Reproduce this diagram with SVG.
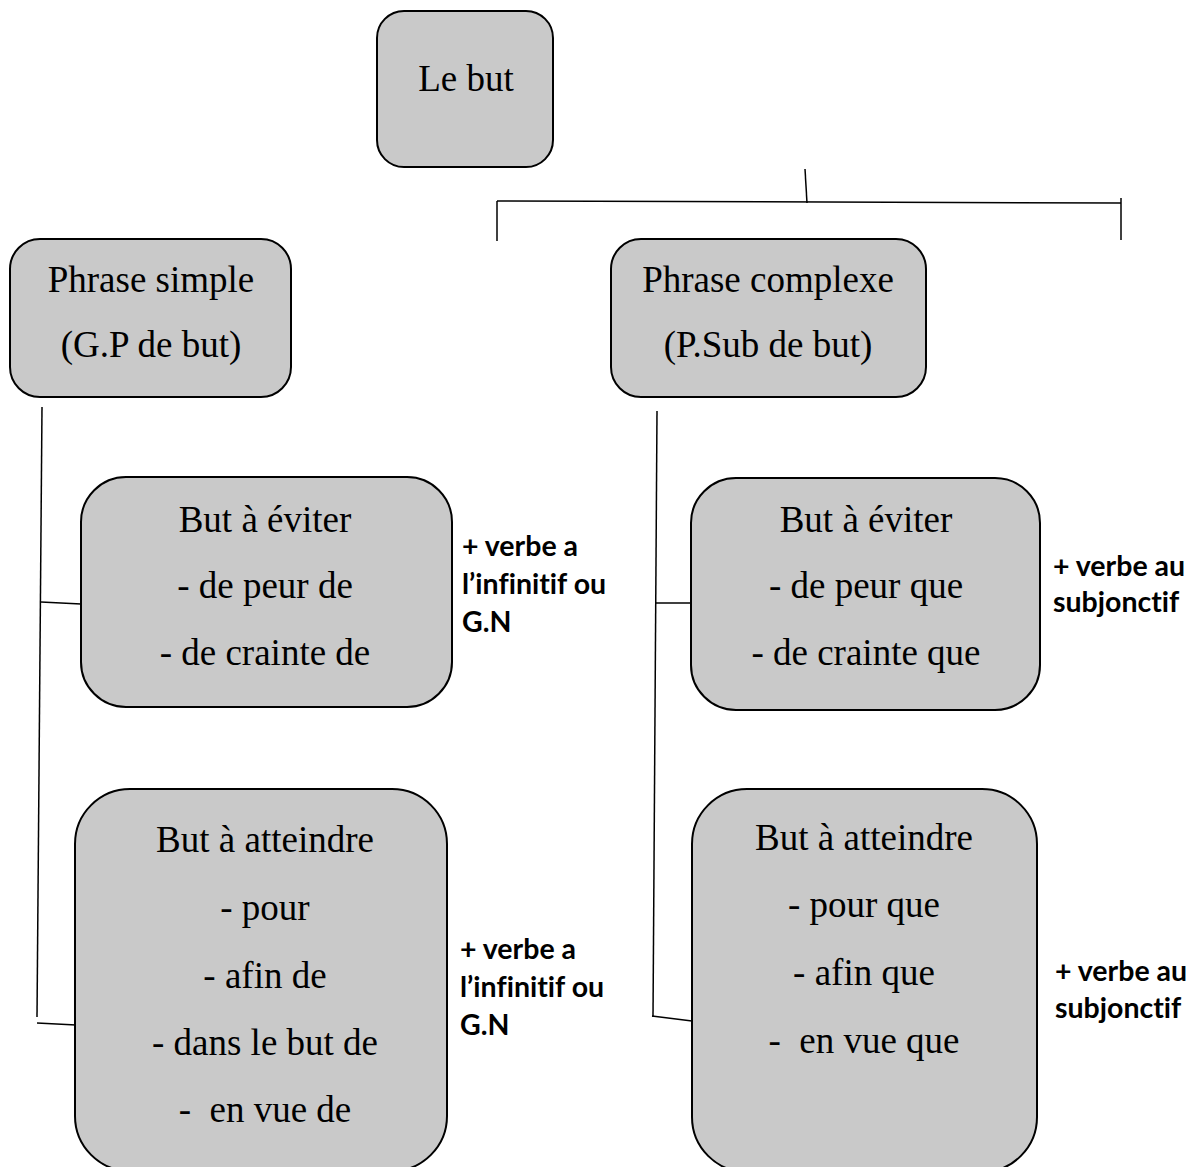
<svg xmlns="http://www.w3.org/2000/svg" width="1202" height="1167" viewBox="0 0 1202 1167">
<style>
.box{fill:#c9c9c9;stroke:#000;stroke-width:2}
.t{font-family:"Liberation Serif","Times New Roman",serif;font-size:37px;fill:#000;text-anchor:middle;white-space:pre}
.n{font-family:Lato,"Open Sans",sans-serif;font-weight:bold;font-size:28.5px;fill:#000;font-variant-ligatures:none}
.c{stroke:#000;stroke-width:1.5;fill:none}
</style>
<rect width="1202" height="1167" fill="#fff"/>
<g id="connectors">
<line class="c" x1="805" y1="169" x2="807" y2="203"/>
<line class="c" x1="497" y1="201" x2="1121" y2="203"/>
<line class="c" x1="497" y1="201" x2="497" y2="241"/>
<line class="c" x1="1121" y1="198" x2="1121" y2="240"/>
<line class="c" x1="42" y1="407" x2="37" y2="1017"/>
<line class="c" x1="41" y1="602" x2="81" y2="604"/>
<line class="c" x1="37" y1="1023" x2="76" y2="1025"/>
<line class="c" x1="657" y1="411" x2="653" y2="1017"/>
<line class="c" x1="655" y1="603" x2="691" y2="603"/>
<line class="c" x1="652" y1="1016" x2="692" y2="1021"/>
</g>
<g id="le-but">
<rect class="box" x="377" y="11" width="176" height="156" rx="27"/>
<text class="t" x="466" y="91">Le but</text>
</g>
<g id="phrase-simple">
<rect class="box" x="10" y="239" width="281" height="158" rx="30"/>
<text class="t" x="151" y="292">Phrase simple</text>
<text class="t" x="151" y="357">(G.P de but)</text>
</g>
<g id="phrase-complexe">
<rect class="box" x="611" y="239" width="315" height="158" rx="30"/>
<text class="t" x="768" y="292">Phrase complexe</text>
<text class="t" x="768" y="357">(P.Sub de but)</text>
</g>
<g id="but-eviter-simple">
<rect class="box" x="81" y="477" width="371" height="230" rx="45"/>
<text class="t" x="265" y="532">But à éviter</text>
<text class="t" x="265" y="598">- de peur de</text>
<text class="t" x="265" y="665">- de crainte de</text>
</g>
<g id="label-eviter-simple">
<text class="n" x="462" y="556">+ verbe a</text>
<text class="n" x="462" y="594">l’infinitif ou</text>
<text class="n" x="462" y="632">G.N</text>
</g>
<g id="but-atteindre-simple">
<rect class="box" x="75" y="789" width="372" height="382" rx="55"/>
<text class="t" x="265" y="852">But à atteindre</text>
<text class="t" x="265" y="920">- pour</text>
<text class="t" x="265" y="988">- afin de</text>
<text class="t" x="265" y="1055">- dans le but de</text>
<text class="t" x="265" y="1122" xml:space="preserve">-  en vue de</text>
</g>
<g id="label-atteindre-simple">
<text class="n" x="460" y="959">+ verbe a</text>
<text class="n" x="460" y="997">l’infinitif ou</text>
<text class="n" x="460" y="1035">G.N</text>
</g>
<g id="but-eviter-complexe">
<rect class="box" x="691" y="478" width="349" height="232" rx="45"/>
<text class="t" x="866" y="532">But à éviter</text>
<text class="t" x="866" y="598">- de peur que</text>
<text class="t" x="866" y="665">- de crainte que</text>
</g>
<g id="label-eviter-complexe">
<text class="n" x="1053" y="576">+ verbe au</text>
<text class="n" x="1053" y="612">subjonctif</text>
</g>
<g id="but-atteindre-complexe">
<rect class="box" x="692" y="789" width="345" height="383" rx="55"/>
<text class="t" x="864" y="850">But à atteindre</text>
<text class="t" x="864" y="917">- pour que</text>
<text class="t" x="864" y="985">- afin que</text>
<text class="t" x="864" y="1053" xml:space="preserve">-  en vue que</text>
</g>
<g id="label-atteindre-complexe">
<text class="n" x="1055" y="981">+ verbe au</text>
<text class="n" x="1055" y="1018">subjonctif</text>
</g>
</svg>
